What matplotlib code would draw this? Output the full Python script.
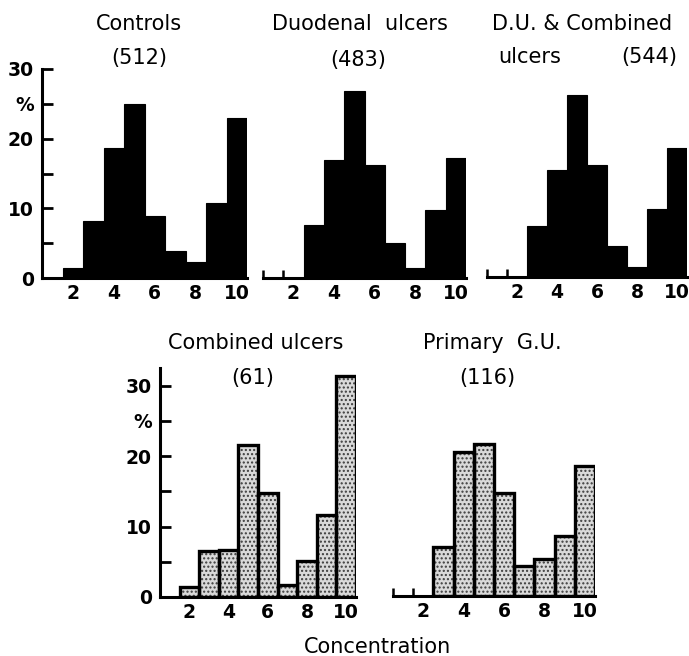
import matplotlib.pyplot as plt

plt.rcParams["font.family"] = ["DejaVu Sans"]
plt.rcParams["hatch.linewidth"] = 1.0

CONCENTRATION = [1, 2, 3, 4, 5, 6, 7, 8, 9, 10]
XTICKS = [2, 4, 6, 8, 10]
YTICKS = [0, 5, 10, 15, 20, 25, 30]
YTICK_LABELS = ["0", "", "10", "", "20", "%", "30"]

CONTROLS = [0, 1.4, 8.2, 18.6, 25.0, 8.9, 3.9, 2.3, 10.7, 22.9]
DUODENAL = [0, 0, 7.6, 16.9, 26.9, 16.2, 5.0, 1.5, 9.8, 17.2]
DU_COMBINED = [0, 0, 7.3, 15.4, 26.1, 16.1, 4.5, 1.4, 9.8, 18.5]
COMBINED = [0, 1.4, 6.5, 6.6, 21.6, 14.8, 1.7, 5.1, 11.6, 31.3]
PRIMARY_GU = [0, 0, 6.9, 20.5, 21.6, 14.6, 4.2, 5.3, 8.5, 18.4]

W, H = 689, 656


def add_axes(fig, left, right, bottom, top):
    return fig.add_axes([left / W, 1 - bottom / H, (right - left) / W, (bottom - top) / H])


def style_axes(ax, ymax, with_yaxis):
    ax.set_xlim(0.5, 10.5)
    ax.set_ylim(0, ymax)
    for side in ["top", "right"]:
        ax.spines[side].set_visible(False)
    ax.spines["bottom"].set_linewidth(2.2)
    ax.set_xticks(XTICKS)
    ax.set_xticklabels([str(v) for v in XTICKS], fontsize=13.5, fontweight="bold")
    ax.tick_params(axis="x", length=0, pad=4)
    if with_yaxis:
        ax.spines["left"].set_linewidth(2.2)
        ax.set_yticks(YTICKS)
        ax.set_yticklabels(YTICK_LABELS, fontsize=13.5, fontweight="bold")
        ax.tick_params(axis="y", direction="in", length=8, width=2, pad=6)
    else:
        ax.spines["left"].set_visible(False)
        ax.set_yticks([])
        ax.set_xticks([0.5, 1.5], minor=True)
        ax.tick_params(axis="x", which="minor", direction="in", length=6, width=1.8)


def solid_bars(ax, values):
    xs = [x for x, v in zip(CONCENTRATION, values) if v > 0]
    vs = [v for v in values if v > 0]
    ax.bar(xs, vs, width=1.0, color="black", edgecolor="black", linewidth=0.8)


def stippled_bars(ax, values):
    xs = [x for x, v in zip(CONCENTRATION, values) if v > 0]
    vs = [v for v in values if v > 0]
    # dotted screen first, then the heavy outline on top
    ax.bar(xs, vs, width=1.0, color="#d9d9d9", hatch="....", edgecolor="#3c3c3c", linewidth=0)
    ax.bar(xs, vs, width=1.0, fill=False, edgecolor="black", linewidth=2.4)


def main() -> None:
    fig = plt.figure(figsize=(W / 100, H / 100), dpi=100)

    # top row: solid histograms
    ax1 = add_axes(fig, 42, 247, 278, 69)
    solid_bars(ax1, CONTROLS)
    style_axes(ax1, 30, True)

    ax2 = add_axes(fig, 263, 466, 278, 69)
    solid_bars(ax2, DUODENAL)
    style_axes(ax2, 30, False)

    ax3 = add_axes(fig, 487, 687, 277, 68)
    solid_bars(ax3, DU_COMBINED)
    style_axes(ax3, 30, False)

    # bottom row: stippled histograms
    ax4 = add_axes(fig, 160, 356, 597, 368)
    stippled_bars(ax4, COMBINED)
    style_axes(ax4, 32.5, True)

    ax5 = add_axes(fig, 393, 595, 596, 367)
    stippled_bars(ax5, PRIMARY_GU)
    style_axes(ax5, 32.5, False)

    def label(x, y, text, ha="center"):
        fig.text(x / W, 1 - y / H, text, ha=ha, va="center", fontsize=15)

    label(139, 24, "Controls")
    label(139, 58, "(512)")
    label(360, 24, "Duodenal  ulcers")
    label(358, 60, "(483)")
    label(582, 24, "D.U. & Combined")
    label(498, 57, "ulcers", ha="left")
    label(649, 57, "(544)")
    label(256, 343, "Combined ulcers")
    label(253, 378, "(61)")
    label(492, 343, "Primary  G.U.")
    label(487, 378, "(116)")
    label(378, 647, "Concentration")

    fig.savefig("out.png", dpi=100)
    plt.close(fig)


if __name__ == "__main__":
    main()
